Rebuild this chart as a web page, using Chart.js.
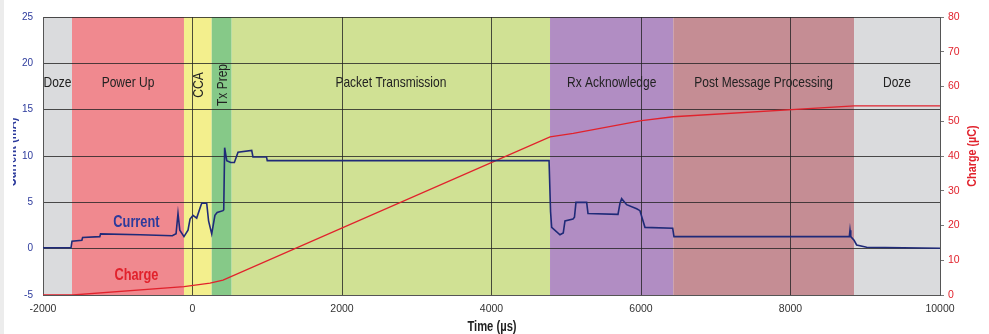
<!DOCTYPE html>
<html>
<head>
<meta charset="utf-8">
<style>
  html, body { margin: 0; padding: 0; background: #fff; }
  #wrap { width: 989px; height: 334px; }
</style>
<script src="https://cdn.jsdelivr.net/npm/chart.js@4.4.0/dist/chart.umd.min.js"></script>
</head>
<body>
<div id="wrap"><canvas id="powerChart" width="989" height="334"></canvas></div>
<script>
// phases of one message cycle (time in µs)
const phaseNames = ['Doze', 'Power Up', 'CCA', 'Tx Prep', 'Packet Transmission', 'Rx Acknowledge', 'Post Message Processing', 'Doze'];
const phaseStart = [-2000, -1612, -114, 257, 524, 4783, 6432, 8850];
const phaseEnd = [-1612, -114, 257, 524, 4783, 6432, 8850, 10000];
const phaseColors = ['#dadbdd', '#f0898f', '#f3ef8d', '#86c988', '#d0e194', '#b18dc3', '#c58d94', '#dadbdd'];

// current trace (mA)
const currentTime = [-2000, -1625, -1612, -1480, -1470, -1240, -1230, -700, -270, -220, -194, -170, -114, -60, -33, 7, 56, 110, 123, 190, 215, 257, 300, 330, 408, 418, 430, 458, 511, 560, 609, 792, 809, 990, 1000,
  4770, 4790, 4805, 4916, 4960, 4983, 5090, 5110, 5130, 5273, 5291, 5692, 5719, 5741, 5808, 5942, 5986, 6053, 6424, 6441, 8787, 8796, 8806, 8850, 8885, 9019, 10000];
const currentMA = [0.1, 0.1, 0.8, 0.9, 1.2, 1.3, 1.6, 1.5, 1.4, 1.6, 3.8, 2.0, 1.3, 2.0, 3.2, 3.6, 3.3, 4.6, 4.9, 4.9, 3.0, 1.6, 3.6, 3.9, 4.1, 4.2, 10.9, 9.5, 9.3, 9.3, 10.4, 10.6, 9.9, 9.9, 9.5,
  9.5, 4.0, 2.3, 1.5, 1.7, 3.0, 3.2, 3.4, 5.0, 5.0, 3.8, 3.7, 4.9, 5.4, 4.75, 4.3, 4.1, 2.3, 2.2, 1.3, 1.3, 2.0, 1.3, 0.9, 0.4, 0.15, 0.05];

// accumulated charge (µC)
const chargeTime = [-2000, -1600, -114, 234, 408, 4783, 5094, 6008, 6432, 8850, 10000];
const chargeUC = [0, 0, 2.4, 3.4, 4.3, 45.5, 46.5, 50.2, 51.3, 54.4, 54.4];

const timeTicks = [-2000, 0, 2000, 4000, 6000, 8000, 10000];
const currentTicks = [-5, 0, 5, 10, 15, 20, 25];
const chargeTicks = [0, 10, 20, 30, 40, 50, 60, 70, 80];

const sans = "'Liberation Sans', Arial, sans-serif";
const blue = '#2c3a9c';
const red = '#e1222c';

const toPoints = (xs, ys) => xs.map((t, i) => ({ x: t, y: ys[i] }));
const setTicks = list => scale => { scale.ticks = list.map(v => ({ value: v })); };

// condensed text, the original uses a narrow face
function narrowText(ctx, text, x, y, rot) {
  ctx.save();
  ctx.translate(x, y);
  if (rot) ctx.rotate(rot);
  ctx.scale(0.8, 1);
  ctx.fillText(text, 0, 0);
  ctx.restore();
}

const phasePlugin = {
  id: 'phases',
  beforeDraw(chart) {
    const { ctx, chartArea: a, scales: { x } } = chart;
    ctx.save();
    ctx.fillStyle = '#fff';
    ctx.fillRect(0, 0, chart.width, chart.height);
    ctx.fillStyle = '#ececec';
    ctx.fillRect(0, 0, 4, chart.height);
    phaseNames.forEach((name, i) => {
      const x0 = x.getPixelForValue(phaseStart[i]);
      const x1 = x.getPixelForValue(phaseEnd[i]);
      ctx.fillStyle = phaseColors[i];
      ctx.fillRect(x0, a.top, x1 - x0, a.bottom - a.top);
    });
    ctx.fillStyle = '#222';
    ctx.font = '15px ' + sans;
    ctx.textAlign = 'center';
    ctx.textBaseline = 'middle';
    phaseNames.forEach((name, i) => {
      const xc = (x.getPixelForValue(phaseStart[i]) + x.getPixelForValue(phaseEnd[i])) / 2;
      if (name === 'CCA' || name === 'Tx Prep') {
        narrowText(ctx, name, xc + 1, 85, -Math.PI / 2);
      } else {
        narrowText(ctx, name, xc, 83);
      }
    });
    ctx.restore();
  },
  afterDraw(chart) {
    const { ctx, scales: { x, yL, yR } } = chart;
    ctx.save();
    ctx.textAlign = 'center';
    ctx.textBaseline = 'middle';
    ctx.font = 'bold 16px ' + sans;
    ctx.fillStyle = blue;
    narrowText(ctx, 'Current', x.getPixelForValue(-750), yL.getPixelForValue(2.8));
    ctx.fillStyle = red;
    narrowText(ctx, 'Charge', x.getPixelForValue(-750), yR.getPixelForValue(5.5));

    // axis titles
    ctx.font = 'bold 14px ' + sans;
    ctx.fillStyle = '#222';
    narrowText(ctx, 'Time (\u00b5s)', 492, 327);

    ctx.font = 'bold 13.5px ' + sans;
    ctx.fillStyle = red;
    narrowText(ctx, 'Charge (\u00b5C)', 972, 156, -Math.PI / 2);

    ctx.font = 'bold 14px ' + sans;
    ctx.fillStyle = blue;
    ctx.save();
    ctx.beginPath();
    ctx.rect(13, 0, 30, chart.height);
    ctx.clip();
    narrowText(ctx, 'Current (mA)', 12, 152, -Math.PI / 2);
    ctx.restore();
    ctx.restore();
  }
};

const chartCtx = document.getElementById('powerChart').getContext('2d');

new Chart(chartCtx, {
  type: 'line',
  data: {
    datasets: [{
      label: 'Current',
      data: toPoints(currentTime, currentMA),
      yAxisID: 'yL',
      borderColor: '#1f2a78',
      borderWidth: 1.6,
      pointRadius: 0,
      tension: 0
    }, {
      label: 'Charge',
      data: toPoints(chargeTime, chargeUC),
      yAxisID: 'yR',
      borderColor: red,
      borderWidth: 1.3,
      pointRadius: 0,
      tension: 0
    }]
  },
  options: {
    responsive: false,
    animation: false,
    devicePixelRatio: 1,
    layout: { padding: { top: 17, left: 0, right: 0, bottom: 0 } },
    plugins: {
      legend: { display: false },
      tooltip: { enabled: false }
    },
    scales: {
      x: {
        type: 'linear',
        min: -2000,
        max: 10000,
        afterBuildTicks: setTicks(timeTicks),
        afterFit: s => { s.height = 39; },
        grid: { color: 'rgba(35,35,35,0.8)', lineWidth: 1, drawTicks: false },
        border: { color: '#555', width: 1 },
        ticks: { color: '#333', font: { family: sans, size: 10.5 }, padding: 8, maxRotation: 0, callback: v => String(v) }
      },
      yL: {
        position: 'left',
        min: -5,
        max: 25,
        afterBuildTicks: setTicks(currentTicks),
        afterFit: s => { s.width = 43; },
        grid: { color: 'rgba(35,35,35,0.8)', lineWidth: 1, drawTicks: false },
        border: { color: '#555', width: 1 },
        ticks: { color: blue, font: { family: sans, size: 10 }, padding: 10, callback: v => String(v) }
      },
      yR: {
        position: 'right',
        min: 0,
        max: 80,
        afterBuildTicks: setTicks(chargeTicks),
        afterFit: s => { s.width = 49; },
        grid: { drawOnChartArea: false, drawTicks: true, tickLength: 4, color: '#777' },
        border: { color: '#555', width: 1 },
        ticks: { color: red, font: { family: sans, size: 10.5 }, padding: 4, callback: v => String(v) }
      }
    }
  },
  plugins: [phasePlugin]
});
</script>
</body>
</html>
